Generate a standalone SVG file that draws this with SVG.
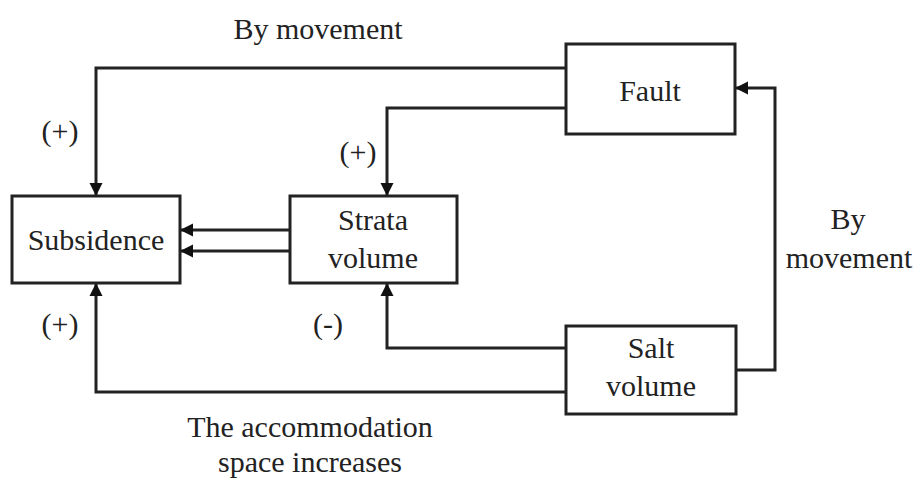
<svg xmlns="http://www.w3.org/2000/svg" width="916" height="482" viewBox="0 0 916 482">
<style>
.box{fill:#fff;stroke:#222;stroke-width:3}
.ln{fill:none;stroke:#222;stroke-width:3}
text{font-family:"Liberation Serif","Times New Roman",serif;font-size:30px;fill:#222;text-anchor:middle}
</style>
<defs>
<marker id="ah" viewBox="0 0 10 10" refX="10" refY="5" markerWidth="4.4" markerHeight="4.4" markerUnits="strokeWidth" orient="auto">
<path d="M0,0 L10,5 L0,10 Z" fill="#111"/>
</marker>
</defs>
<rect width="916" height="482" fill="#fff"/>
<g id="connectors">
<path class="ln" d="M566,68 H96 V196" marker-end="url(#ah)"/>
<path class="ln" d="M566,108 H387 V196" marker-end="url(#ah)"/>
<path class="ln" d="M290,230 H180" marker-end="url(#ah)"/>
<path class="ln" d="M290,251 H180" marker-end="url(#ah)"/>
<path class="ln" d="M566,348 H387 V283" marker-end="url(#ah)"/>
<path class="ln" d="M566,392 H96 V283" marker-end="url(#ah)"/>
<path class="ln" d="M736,370 H775 V88 H735" marker-end="url(#ah)"/>
</g>
<g id="subsidence">
<rect class="box" x="12" y="196" width="168" height="87"/>
<text x="96" y="250">Subsidence</text>
</g>
<g id="strata">
<rect class="box" x="290" y="196" width="167" height="87"/>
<text x="373" y="230">Strata</text>
<text x="373" y="268">volume</text>
</g>
<g id="fault">
<rect class="box" x="566" y="44" width="169" height="90"/>
<text x="650" y="101">Fault</text>
</g>
<g id="salt">
<rect class="box" x="566" y="326" width="170" height="88"/>
<text x="651" y="358">Salt</text>
<text x="651" y="396">volume</text>
</g>
<g id="labels">
<text x="318" y="39">By movement</text>
<text x="60" y="141">(+)</text>
<text x="358" y="162">(+)</text>
<text x="60" y="334">(+)</text>
<text x="328" y="334">(-)</text>
<text x="848" y="229">By</text>
<text x="849" y="268">movement</text>
<text x="310" y="437">The accommodation</text>
<text x="310" y="472">space increases</text>
</g>
</svg>
